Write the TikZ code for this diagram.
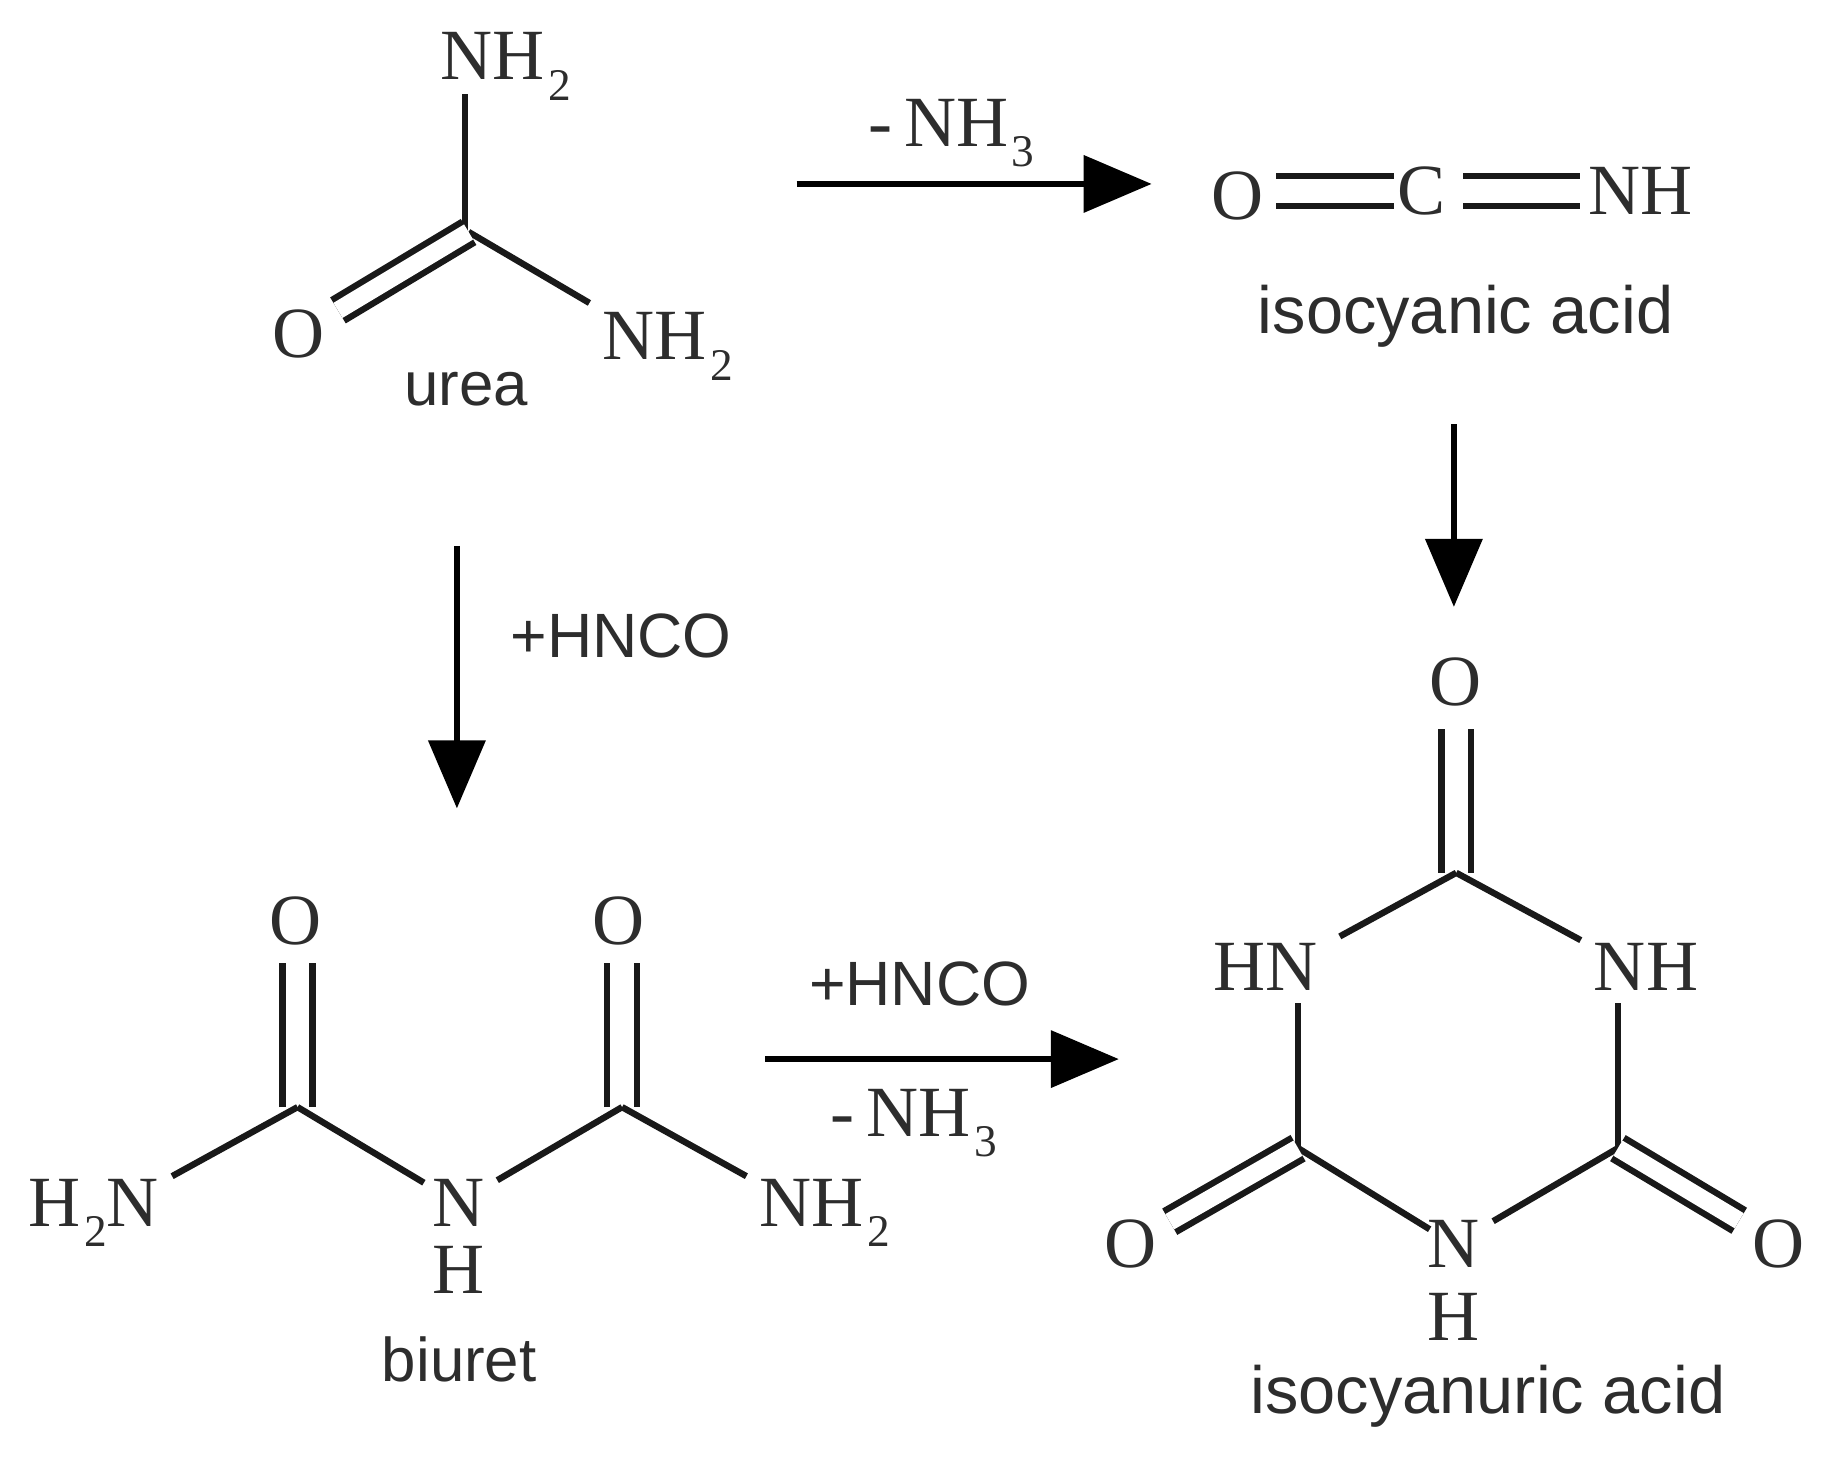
\documentclass[tikz,border=0pt]{standalone}
\usepackage{fontspec}
\setmainfont{Liberation Serif}
\newfontfamily\capfont{Liberation Sans}
\usetikzlibrary{arrows.meta}
\definecolor{inkgray}{RGB}{45,45,45}
\newcommand{\subdigit}[1]{\kern0.05em\smash{\raisebox{-0.28em}{\fontsize{11}{12}\selectfont #1}}}
\tikzset{
    atom/.style={font=\fontsize{17.5}{20}\selectfont, text=inkgray, inner sep=3pt},
    caption/.style={font=\capfont\fontsize{16.2}{20}\selectfont, text=inkgray, inner sep=0pt},
    smallcap/.style={font=\capfont\fontsize{15}{20}\selectfont, text=inkgray, inner sep=0pt},
    reagent/.style={font=\capfont\fontsize{15.2}{20}\selectfont, text=inkgray, inner sep=0pt},
    bond/.style={line width=1.55pt, black!90},
    dbond/.style={line width=1.55pt, black!90, double=white, double distance=0.15cm},
    dbondv/.style={line width=1.55pt, black!90, double=white, double distance=0.2cm},
    react/.style={line width=1.5pt, -{Triangle[length=0.58cm,width=0.48cm]}}
}
\begin{document}
\begin{tikzpicture}[x=0.01cm,y=-0.01cm]
\useasboundingbox (0,0) rectangle (1568,1245);

% Urea
\coordinate (cu) at (400,198);
\node[atom] (nhua) at (432,48) {NH\subdigit{2}};
\node[atom] (ou) at (255,285) {O};
\node[atom] (nhub) at (570,287) {NH\subdigit{2}};
\node[smallcap] (urea) at (398,332) {urea};
\draw[bond] (397,198) -- (397,80);
\draw[bond] (cu) -- (nhub.157);
\draw[dbond] (cu) -- (ou);

% Isocyanic acid
\node[atom] (oi) at (1056,167) {O};
\node[atom] (ci) at (1213,163) {C};
\node[atom] (nhi) at (1400,163) {NH};
\node[caption] (isoc) at (1251,270) {isocyanic acid};
\draw[dbondv, shorten >=-0.09cm] (oi.east |- ci) -- (ci);
\draw[dbondv, shorten <=0.04cm, shorten >=-0.04cm] (ci) -- (nhi);

% Biuret
\coordinate (cba) at (254,945);
\coordinate (cbb) at (531,945);
\node[atom] (oba) at (252,786) {O};
\node[atom] (obb) at (528,786) {O};
\node[atom] (nha) at (80,1027) {H\subdigit{2}N};
\node[atom] (nb) at (391,1027) {N};
\node[atom] (hb) at (391,1084) {H};
\node[atom] (nhb) at (704,1027) {NH\subdigit{2}};
\node[smallcap] (biuret) at (392,1160) {biuret};
\draw[dbondv, shorten >=0.04cm] (cba) -- (cba |- oba.south);
\draw[dbondv, shorten >=0.04cm] (cbb) -- (cbb |- obb.south);
\draw[bond] (cba) -- (nha.19);
\draw[bond, shorten >=-0.05cm] (cba) -- (nb);
\draw[bond] (cbb) -- (nb);
\draw[bond] (cbb) -- (nhb.161);

% Isocyanuric acid
\coordinate (ct) at (1243,745);
\coordinate (cl) at (1108,980);
\coordinate (cr) at (1381,980);
\node[atom] (ot) at (1242,582) {O};
\node[atom] (hnl) at (1080,825) {HN};
\node[atom] (nhr) at (1405,825) {NH};
\node[atom] (nc) at (1241,1062) {N};
\node[atom] (hc) at (1241,1124) {H};
\node[atom] (ol) at (965,1062) {O};
\node[atom] (or) at (1518,1062) {O};
\node[caption] (isocn) at (1270,1192) {isocyanuric acid};
\draw[dbondv, shorten >=0.08cm] (ct) -- (ct |- ot.south);
\draw[bond, shorten >=0.09cm] (ct) -- (hnl.21);
\draw[bond] (ct) -- (nhr.158);
\draw[bond] (cl) -- (cl |- hnl.south);
\draw[bond] (cr) -- (cr |- nhr.south);
\draw[bond, shorten >=-0.15cm] (cl) -- (nc);
\draw[bond] (cr) -- (nc);
\draw[dbond] (cl) -- (ol);
\draw[dbond] (cr) -- (or);

% Arrows
\coordinate (aas) at (680,157);
\coordinate (aae) at (983,157);
\coordinate (abs) at (1241,362);
\coordinate (abe) at (1241,518);
\coordinate (acs) at (390,466);
\coordinate (ace) at (390,690);
\coordinate (ads) at (653,904);
\coordinate (ade) at (955,904);
\draw[react] (aas) -- (aae);
\draw[react] (abs) -- (abe);
\draw[react] (acs) -- (ace);
\draw[react] (ads) -- (ade);
\node[atom] (lossa) at (812,105) {-\,NH\subdigit{3}};
\node[reagent] (adda) at (530,543) {+HNCO};
\node[reagent] (addb) at (785,840) {+HNCO};
\node[atom] (lossb) at (780,950) {-\,NH\subdigit{3}};
\end{tikzpicture}
\end{document}
